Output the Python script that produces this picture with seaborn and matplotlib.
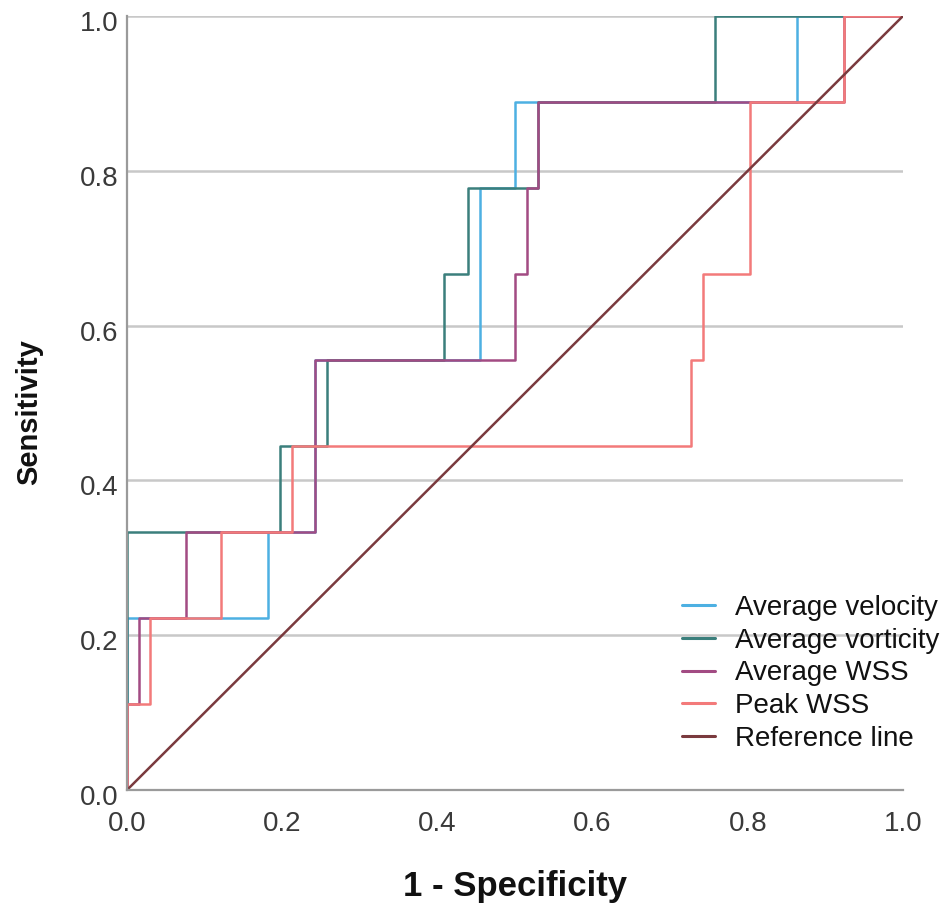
import matplotlib
matplotlib.use("Agg")
import matplotlib.pyplot as plt
import matplotlib.transforms as mtransforms
import seaborn as sns
import pandas as pd
from matplotlib.lines import Line2D

# ROC step curves (FPR = 1 - specificity, TPR = sensitivity)
vel_fpr = [0.0, 0.0, 0.182, 0.182, 0.242, 0.242, 0.455, 0.455, 0.500, 0.500, 0.864, 0.864, 1.0]
vel_tpr = [0.0, 0.222, 0.222, 0.333, 0.333, 0.556, 0.556, 0.778, 0.778, 0.889, 0.889, 1.0, 1.0]

vor_fpr = [0.0, 0.0, 0.197, 0.197, 0.258, 0.258, 0.409, 0.409, 0.439, 0.439, 0.530, 0.530, 0.758, 0.758, 1.0]
vor_tpr = [0.0, 0.333, 0.333, 0.444, 0.444, 0.556, 0.556, 0.667, 0.667, 0.778, 0.778, 0.889, 0.889, 1.0, 1.0]

wss_fpr = [0.0, 0.0, 0.015, 0.015, 0.076, 0.076, 0.242, 0.242, 0.500, 0.500, 0.515, 0.515, 0.530, 0.530, 0.924, 0.924, 1.0]
wss_tpr = [0.0, 0.111, 0.111, 0.222, 0.222, 0.333, 0.333, 0.556, 0.556, 0.667, 0.667, 0.778, 0.778, 0.889, 0.889, 1.0, 1.0]

pk_fpr = [0.0, 0.0, 0.030, 0.030, 0.121, 0.121, 0.212, 0.212, 0.727, 0.727, 0.742, 0.742, 0.803, 0.803, 0.924, 0.924, 1.0]
pk_tpr = [0.0, 0.111, 0.111, 0.222, 0.222, 0.333, 0.333, 0.444, 0.444, 0.556, 0.556, 0.667, 0.667, 0.889, 0.889, 1.0, 1.0]

ref_fpr = [0.0, 1.0]
ref_tpr = [0.0, 1.0]

tick_vals = [0.0, 0.2, 0.4, 0.6, 0.8, 1.0]
tick_labels = ["0.0", "0.2", "0.4", "0.6", "0.8", "1.0"]

names = ["Average velocity", "Average vorticity", "Average WSS", "Peak WSS", "Reference line"]
colors = ["#4DB0E2", "#3B7F7C", "#A24B83", "#F37A7A", "#7A3A3E"]
series = [(vel_fpr, vel_tpr), (vor_fpr, vor_tpr), (wss_fpr, wss_tpr), (pk_fpr, pk_tpr), (ref_fpr, ref_tpr)]

rows = []
for name, (fx, ty) in zip(names, series):
    for i, (a, b) in enumerate(zip(fx, ty)):
        rows.append({"series": name, "order": i, "fpr": a, "tpr": b})
df = pd.DataFrame(rows)

sns.set_theme(style="white")
plt.rcParams["font.family"] = ["Liberation Sans", "DejaVu Sans"]

fig = plt.figure(figsize=(9.42, 9.05), dpi=100)
ax = fig.add_axes([127 / 942, 1 - 790 / 905, 776 / 942, 774 / 905])

for y in tick_vals:
    ax.axhline(y, color="#C8C8C8", lw=1.8, zorder=0)

sns.lineplot(data=df, x="fpr", y="tpr", hue="series", hue_order=names,
             palette=dict(zip(names, colors)), sort=False, estimator=None,
             units="series", lw=1.8, ax=ax, legend=False)

ax.set_xlim(0, 1)
ax.set_ylim(0, 1)
ax.set_xticks(tick_vals)
ax.set_yticks(tick_vals)
ax.set_xticklabels(tick_labels)
ax.set_yticklabels(tick_labels)
ax.tick_params(axis="both", length=0, labelsize=20, labelcolor="#3A3A3A")
ax.tick_params(axis="x", pad=15)
ax.tick_params(axis="y", pad=6)
offset = mtransforms.ScaledTranslation(0, -5 / 100, fig.dpi_scale_trans)
for lbl in ax.get_yticklabels():
    lbl.set_transform(lbl.get_transform() + offset)
for s in ["top", "right"]:
    ax.spines[s].set_visible(False)
for s in ["left", "bottom"]:
    ax.spines[s].set_color("#9A9A9A")
    ax.spines[s].set_linewidth(1.6)

ax.set_xlabel("1 - Specificity", fontsize=25, fontweight="bold", color="#111111", labelpad=24)
ax.set_ylabel("Sensitivity", fontsize=21, fontweight="bold", color="#111111")
ax.yaxis.set_label_coords((43 - 127) / 776, (790 - 412) / 774)

handles = [Line2D([0], [0], color=c, lw=2.2) for c in colors]
leg = ax.legend(handles, names, loc="upper left", bbox_to_anchor=(555 / 776, 1 - 579 / 774),
                frameon=False, fontsize=20, handlelength=1.2, handletextpad=0.72,
                labelspacing=0.24, borderaxespad=0, borderpad=0)
for t in leg.get_texts():
    t.set_color("#111111")

fig.savefig("out.png", dpi=100)
